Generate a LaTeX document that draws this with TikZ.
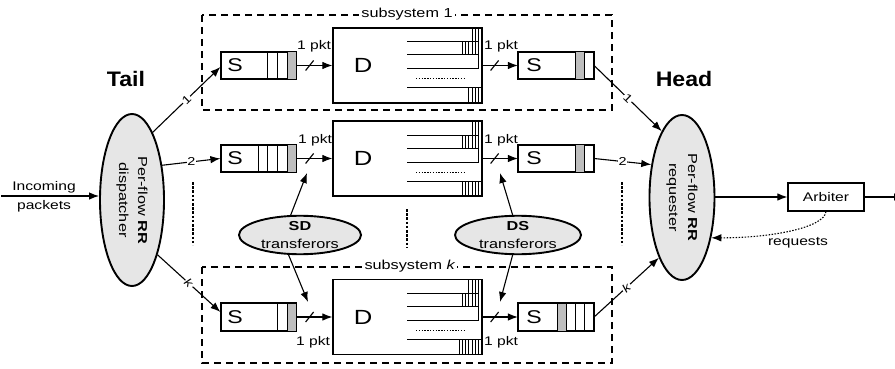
\documentclass[tikz,border=0pt]{standalone}
\usepackage{fontspec}
\setmainfont{Liberation Sans}[FakeStretch=1.25]
\newfontfamily\titlefont{Liberation Sans}[FakeStretch=1.1]
\usetikzlibrary{arrows.meta,shapes.geometric,calc}
\definecolor{ellfill}{RGB}{230,230,230}
\definecolor{cellgray}{RGB}{190,190,190}
\newcommand\dinner[4]{%
  \begin{scope}[line width=1pt]
  \draw (407,#1+14) -- (478.7,#1+14);
  \draw (407,#1+27) -- (478.7,#1+27);
  \draw (407,#1+41) -- (478.7,#1+41);
  \draw (407,#1+60) -- (482,#1+60);
  \draw (478.7,#1) -- (478.7,#1+41);
  \draw[dash pattern=on 1.3pt off 1.5pt] (416,#1+51) -- (464,#1+51);
  \foreach \k in {2,...,#2} \draw[line width=0.8pt] ({482-3.3*\k},#1) -- ++(0,14);
  \foreach \k in {2,...,#3} \draw[line width=0.8pt] ({482-3.3*\k},#1+14) -- ++(0,13);
  \foreach \k in {1,...,#4} \draw[line width=0.8pt] ({482-3.3*\k},#1+60) -- ++(0,15);
  \end{scope}}
\begin{document}
\begin{tikzpicture}[x=1pt,y=-1pt,
  font=\fontsize{12.5}{15}\selectfont,
  arr/.style={-{Latex[length=10pt,width=7.5pt]}, line width=1.1pt},
  sbox/.style={draw, line width=1.2pt, minimum width=75pt, minimum height=27pt, inner sep=0pt},
  dbox/.style={draw, line width=1.2pt, minimum width=149pt, minimum height=75pt, inner sep=0pt},
  ell/.style={ellipse, draw, line width=1.9pt, fill=ellfill, inner sep=0pt},
  subsys/.style={line width=1.2pt, dash pattern=on 7pt off 5pt},
  sublbl/.style={fill=white, inner sep=2pt, font=\fontsize{13}{15}\selectfont},
  slbl/.style={font=\fontsize{18.5}{20}\selectfont, inner sep=0pt},
  dlbl/.style={font=\fontsize{20.5}{22}\selectfont, inner sep=0pt},
  pkt/.style={inner sep=0pt},
  flowlbl/.style={fill=white, inner sep=0.8pt, font=\fontsize{11.5}{12}\selectfont},
  ellip/.style={line width=2.4pt, dash pattern=on 2.6pt off 1.6pt},
  title/.style={font=\titlefont\fontsize{21}{24}\selectfont\bfseries}
]
\useasboundingbox (0,0) rectangle (895,369);
\fill[white] (0,0) rectangle (895,369);

% subsystem boxes
\draw[subsys] (202,15) rectangle (612,110);
\node[sublbl] (sub1lbl) at (407,14) {subsystem 1};
\draw[subsys] (202,267) rectangle (612,363);
\node[sublbl] (subklbl) at (410,266) {subsystem \textit{k}};

% titles
\node[title] (tail) at (126,79) {Tail};
\node[title] (head) at (684,79) {Head};

% ellipses
\node[ell, minimum width=64pt, minimum height=172pt] (disp) at (132,200) {};
\node[rotate=-90, align=center, font=\fontsize{13}{19}\selectfont] (disptxt) at (disp.center) {Per-flow \textbf{RR}\\dispatcher};
\node[ell, minimum width=65pt, minimum height=165pt] (req) at (682,197.5) {};
\node[rotate=-90, align=center, font=\fontsize{13}{19}\selectfont] (reqtxt) at (req.center) {Per-flow \textbf{RR}\\requester};

% incoming
\node[align=center, font=\fontsize{12.5}{19}\selectfont] (inc) at (44,196.5) {Incoming\\packets};
\coordinate (in) at (1,196);
\draw[arr] (in) -- (in -| disp.west);

% left S queues
\node[sbox] (s1) at (258.5,65.5) {};
\node[sbox] (s2) at (258.5,158.5) {};
\node[sbox] (sk) at (258.5,317) {};
\fill[cellgray] (287,52) rectangle (296,79);
\fill[cellgray] (287,145) rectangle (296,172);
\fill[cellgray] (287,303.5) rectangle (296,330.5);
\draw[sbox] (s1.north west) rectangle (s1.south east);
\draw[sbox] (s2.north west) rectangle (s2.south east);
\draw[sbox] (sk.north west) rectangle (sk.south east);
\foreach \x in {267,277,287} \draw[line width=1pt] (\x,52) -- (\x,79);
\foreach \x in {258,267,277,287} \draw[line width=1pt] (\x,145) -- (\x,172);
\foreach \x in {277,287} \draw[line width=1pt] (\x,303.5) -- (\x,330.5);
\node[slbl] (s1t) at (235,65.5) {S};
\node[slbl] (s2t) at (235,158.5) {S};
\node[slbl] (skt) at (235,317) {S};

% D buffers
\node[dbox] (d1) at (407.5,65.5) {};
\node[dbox] (d2) at (407.5,158.5) {};
\node[dbox] (dk) at (407.5,317) {};
\dinner{28}{3}{6}{4}
\dinner{121}{3}{6}{6}
\dinner{279.5}{4}{6}{7}
\node[dlbl] (d1t) at (363,65.5) {D};
\node[dlbl] (d2t) at (363,158.5) {D};
\node[dlbl] (dkt) at (363,317) {D};

% right S queues
\node[sbox] (r1) at (556,65.5) {};
\node[sbox] (r2) at (556,158.5) {};
\node[sbox] (rk) at (556,317) {};
\fill[cellgray] (575,52) rectangle (584,79);
\fill[cellgray] (575,145) rectangle (584,172);
\fill[cellgray] (557,303.5) rectangle (566,330.5);
\draw[sbox] (r1.north west) rectangle (r1.south east);
\draw[sbox] (r2.north west) rectangle (r2.south east);
\draw[sbox] (rk.north west) rectangle (rk.south east);
\foreach \x in {575,584} \draw[line width=1pt] (\x,52) -- (\x,79);
\foreach \x in {575,584} \draw[line width=1pt] (\x,145) -- (\x,172);
\foreach \x in {557,566,575,584} \draw[line width=1pt] (\x,303.5) -- (\x,330.5);
\node[slbl] (r1t) at (534,65.5) {S};
\node[slbl] (r2t) at (534,158.5) {S};
\node[slbl] (rkt) at (534,317) {S};

% S -> D -> S transfers
\foreach \a/\b in {s1/d1,s2/d2,sk/dk} {
  \draw[arr] (\a.east) -- (\b.west);
  \draw[line width=1.1pt] ([shift={(9,5)}]\a.east) -- ++(8,-10);
}
\foreach \a/\b in {d1/r1,d2/r2,dk/rk} {
  \draw[arr] (\a.east) -- (\b.west);
  \draw[line width=1.1pt] ([shift={(8,5)}]\a.east) -- ++(8,-10);
}
\node[pkt] (p1l) at (314,46) {1 pkt};
\node[pkt] (p1r) at (501,46) {1 pkt};
\node[pkt] (p2l) at (315,140) {1 pkt};
\node[pkt] (p2r) at (501,140) {1 pkt};
\node[pkt] (pkl) at (313,342) {1 pkt};
\node[pkt] (pkr) at (501,342) {1 pkt};

% dispatcher -> S
\draw[arr] (disp.73) -- node[flowlbl, sloped] {1} ([yshift=-1.5pt]s1.west);
\draw[arr] (disp.49) -- node[flowlbl] {2} (s2.west);
\draw[arr] (disp.-65) -- node[flowlbl, sloped] {\textit{k}} ([yshift=5pt]sk.west);

% S -> requester
\draw[arr] (r1.east) -- node[flowlbl, sloped] {1} (req.107);
\draw[arr] (r2.east) -- node[flowlbl] {2} (req.133);
\draw[arr] (rk.east) -- node[flowlbl, sloped] {\textit{k}} (req.249);

% ellipsis marks
\draw[ellip] (193,182) -- (193,245);
\draw[ellip] (407,209) -- (407,248);
\draw[ellip] (622,182) -- (622,245);

% transferors
\node[ell, minimum width=122pt, minimum height=36pt, align=center, font=\fontsize{13}{18}\selectfont] (sd) at (300,235) {\textbf{SD}\\transferors};
\node[ell, minimum width=126pt, minimum height=36pt, align=center, font=\fontsize{13}{18}\selectfont] (ds) at (518,235) {\textbf{DS}\\transferors};
\coordinate (sdup) at (307,173);
\coordinate (sddn) at (308,302);
\coordinate (dsup) at (500,173);
\coordinate (dsdn) at (500,302);
\draw[arr] (sd.115) -- (sdup);
\draw[arr] (sd.-120) -- (sddn);
\draw[arr] (ds.105) -- (dsup);
\draw[arr] (ds.-105) -- (dsdn);

% arbiter
\node[draw, line width=1.2pt, minimum width=76pt, minimum height=28pt, inner sep=0pt] (arb) at (826,197) {Arbiter};
\draw[arr] (req.east |- arb.west) -- (arb.west);
\coordinate (out) at (904,197);
\draw[arr] (arb.east) -- (out);
\draw[-{Latex[length=10pt,width=7.5pt]}, line width=1.1pt, dash pattern=on 1.5pt off 1.5pt]
  (arb.south) .. controls (824,228) and (770,238) .. (req.-54);
\node (reqlbl) at (798,243) {requests};
\end{tikzpicture}
\end{document}
